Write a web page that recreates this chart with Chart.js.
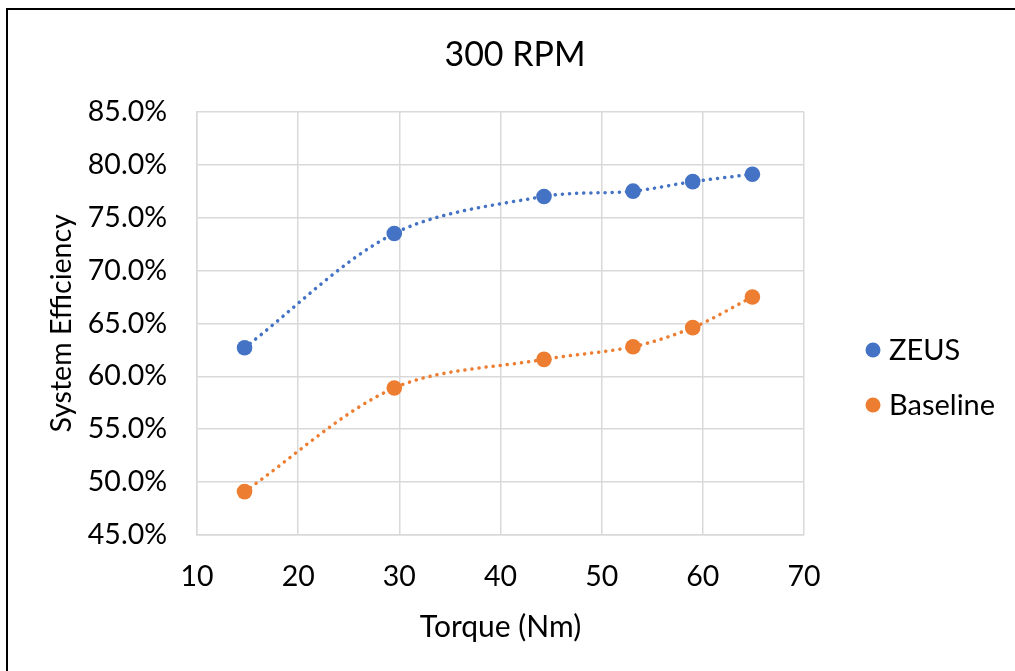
<!DOCTYPE html>
<html>
<head>
<meta charset="utf-8">
<script src="https://cdn.jsdelivr.net/npm/chart.js@4/dist/chart.umd.min.js"></script>
<style>
  html, body { margin: 0; padding: 0; background: #fff; }
  #frame { position: absolute; left: 6px; top: 8px; width: 1015px; height: 671px;
           border-left: 2px solid #000; border-top: 2px solid #000; }
  #wrap { position: absolute; left: 0; top: 0; width: 1015px; height: 671px; }
</style>
</head>
<body>
<div id="frame"></div>
<div id="wrap"><canvas id="chart"></canvas></div>
<script>
const torque = [14.7, 29.5, 44.3, 53.1, 59.0, 64.9]
const zeus = [62.7, 73.5, 77.0, 77.5, 78.4, 79.1]
const baseline = [49.1, 58.9, 61.6, 62.8, 64.6, 67.5]
const xTicks = [10, 20, 30, 40, 50, 60, 70]
const yTicks = [45, 50, 55, 60, 65, 70, 75, 80, 85]

const FONT = 'Lato'
const gridColor = '#d9d9d9'

function points(ys) {
    return torque.map(function(x, i) { return { x: x, y: ys[i] } })
}

function series(label, ys, color) {
    return {
        label: label,
        data: points(ys),
        showLine: true,
        tension: 0.32,
        borderColor: color,
        backgroundColor: color,
        borderWidth: 3.5,
        borderDash: [0.1, 7],
        borderCapStyle: 'round',
        pointRadius: 7.8,
        pointHoverRadius: 7.8,
        pointBorderWidth: 0,
        pointBackgroundColor: color,
        pointStyle: 'circle'
    }
}

// legend drawn by hand so it can sit where Excel puts it
const sideLegend = {
    id: 'sideLegend',
    afterDraw(chart) {
        const c = chart.ctx
        c.save()
        c.font = '29px ' + FONT
        c.textBaseline = 'middle'
        chart.data.datasets.forEach(function(ds, i) {
            const y = 350 + i * 55
            c.fillStyle = ds.borderColor
            c.beginPath()
            c.arc(873, y, 7.5, 0, Math.PI * 2)
            c.fill()
            c.fillStyle = '#000'
            c.fillText(ds.label, 889, y + 1)
        })
        c.restore()
    }
}

const ctx = document.getElementById('chart').getContext('2d')

new Chart(ctx, {
    type: 'scatter',
    data: {
        datasets: [
            series('ZEUS', zeus, '#4472C4'),
            series('Baseline', baseline, '#ED7D31')
        ]
    },
    plugins: [sideLegend],
    options: {
        responsive: true,
        maintainAspectRatio: false,
        animation: false,
        layout: { padding: { left: 45, right: 30, top: 10, bottom: 26 } },
        plugins: {
            title: {
                display: true,
                text: '300 RPM',
                color: '#000',
                font: { family: FONT, size: 34, weight: 'normal' },
                padding: { top: 25, bottom: 36 }
            },
            legend: { display: false },
            tooltip: { enabled: false }
        },
        scales: {
            x: {
                type: 'linear',
                min: xTicks[0],
                max: xTicks[xTicks.length - 1],
                afterBuildTicks: function(axis) {
                    axis.ticks = xTicks.map(function(v) { return { value: v } })
                },
                afterFit: function(axis) {
                    axis.height = 110
                },
                ticks: {
                    color: '#000',
                    padding: 25,
                    font: { family: FONT, size: 28.5 }
                },
                grid: { color: gridColor, lineWidth: 1.5, drawTicks: false },
                border: { color: gridColor, width: 1.5 },
                title: {
                    display: true,
                    text: 'Torque (Nm)',
                    color: '#000',
                    font: { family: FONT, size: 30 },
                    padding: { top: 15, bottom: 0 }
                }
            },
            y: {
                type: 'linear',
                min: yTicks[0],
                max: yTicks[yTicks.length - 1],
                afterBuildTicks: function(axis) {
                    axis.ticks = yTicks.map(function(v) { return { value: v } })
                },
                afterFit: function(axis) {
                    axis.width = 197 - 45
                },
                ticks: {
                    color: '#000',
                    padding: 30,
                    font: { family: FONT, size: 28.5 },
                    callback: function(v) { return v.toFixed(1) + '%' }
                },
                grid: { color: gridColor, lineWidth: 1.5, drawTicks: false },
                border: { color: gridColor, width: 1.5 },
                title: {
                    display: true,
                    text: 'System Efficiency',
                    color: '#000',
                    font: { family: FONT, size: 28.5 },
                    padding: { top: 0, bottom: 0 }
                }
            },
            // empty axis that only reserves the room the legend needs
            legendRoom: {
                type: 'linear',
                position: 'right',
                display: true,
                afterFit: function(axis) {
                    axis.width = 1015 - 30 - 804
                },
                ticks: { display: false },
                grid: { display: false, drawOnChartArea: false },
                border: { display: false }
            }
        }
    }
})
</script>
</body>
</html>
